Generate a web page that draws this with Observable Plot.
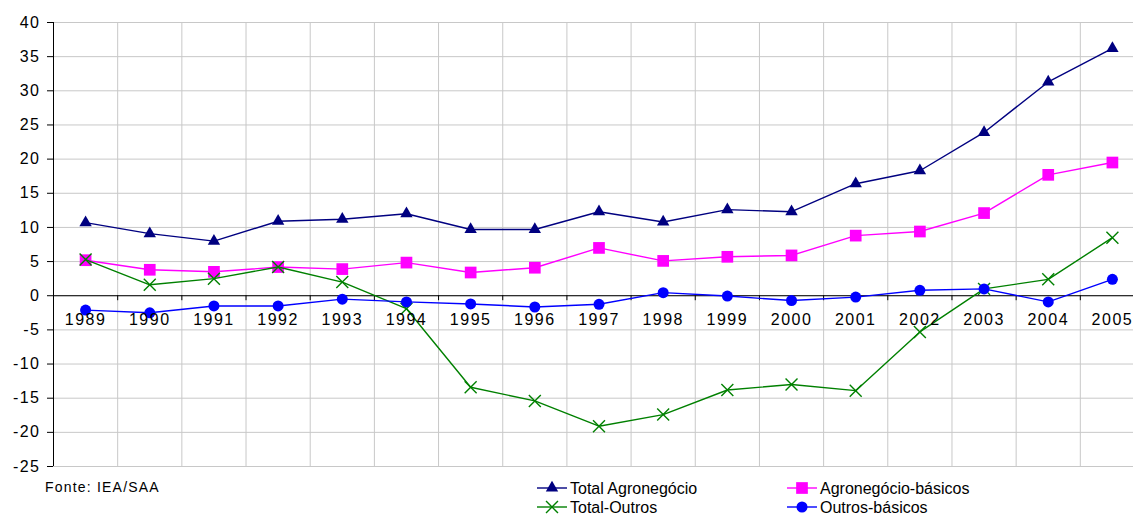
<!DOCTYPE html>
<html><head><meta charset="utf-8">
<script src="https://cdn.jsdelivr.net/npm/d3@7"></script>
<script src="https://cdn.jsdelivr.net/npm/@observablehq/plot@0.6"></script>
<style>
body{margin:0;background:#fff;font-family:"Liberation Sans",Arial,sans-serif;}
#legend{position:relative;width:1133px;height:46px;}
</style>
</head><body>
<div id="chart"></div>
<div id="legend"></div>
<script>
const years = [1989,1990,1991,1992,1993,1994,1995,1996,1997,1998,1999,2000,2001,2002,2003,2004,2005];
const totalAgronegocio = [10.7,9.1,8.0,10.9,11.2,12.0,9.7,9.7,12.3,10.8,12.6,12.3,16.4,18.3,23.9,31.3,36.2];
const agronegocioBasicos = [5.2,3.8,3.5,4.2,3.9,4.85,3.4,4.1,7.0,5.1,5.7,5.9,8.8,9.4,12.1,17.7,19.5];
const totalOutros = [5.3,1.6,2.5,4.2,2.0,-1.9,-13.4,-15.4,-19.1,-17.4,-13.8,-13.0,-13.9,-5.3,1.0,2.4,8.5];
const outrosBasicos = [-2.1,-2.5,-1.5,-1.5,-0.5,-0.9,-1.2,-1.65,-1.25,0.45,-0.05,-0.7,-0.2,0.8,1.0,-0.9,2.4];
const yTicks = [-25,-20,-15,-10,-5,0,5,10,15,20,25,30,35,40];
const seriesNames = ["Total Agronegócio","Agronegócio-básicos","Total-Outros","Outros-básicos"];
const source = "Fonte: IEA/SAA";

const seriesValues = [totalAgronegocio, agronegocioBasicos, totalOutros, outrosBasicos];
const styles = [
  {color:"#000080", symbol:"triangle", r:4.6, filled:true},
  {color:"#ff00ff", symbol:"square", r:6.6, filled:true},
  {color:"#008000", symbol:"times", r:5.5, filled:false},
  {color:"#0000ff", symbol:"circle", r:5.5, filled:true}
];
const data = seriesNames.flatMap((name, s) =>
  years.map((year, i) => ({series:name, s, year, value:seriesValues[s][i]})));
const boundaries = years.slice(0, -1).map(y => y + 0.5);
const leftEdge = years[0] - 0.5;

const marks = [
  Plot.ruleY(yTicks, {stroke:"#c8c8c8", strokeWidth:1}),
  Plot.ruleX(boundaries, {stroke:"#c8c8c8", strokeWidth:1}),
  Plot.ruleY([0], {stroke:"#000", strokeWidth:1}),
  Plot.ruleX(boundaries, {y1:0, y2:0, insetBottom:-5, stroke:"#000"}),
  Plot.ruleX([leftEdge], {stroke:"#000", strokeWidth:1}),
];
styles.forEach((st, s) => {
  const d = data.filter(r => r.s === s);
  marks.push(Plot.line(d, {x:"year", y:"value", stroke:st.color, strokeWidth:1.4}));
  marks.push(Plot.dot(d, st.filled
    ? {x:"year", y:"value", symbol:st.symbol, r:st.r, fill:st.color, stroke:"none"}
    : {x:"year", y:"value", symbol:st.symbol, r:st.r, stroke:st.color, strokeWidth:1.4}));
});
marks.push(Plot.text(years, {x:d => d, y:() => 0, text:d => String(d), dy:24, fontSize:16, fill:"#000"}));

const chart = Plot.plot({
  width:1133, height:470,
  marginLeft:53, marginRight:-11, marginTop:22, marginBottom:4,
  style:{fontFamily:"'Liberation Sans', Arial, sans-serif", fontSize:"16px", letterSpacing:"1.5px", background:"#fff", overflow:"visible"},
  x:{domain:[leftEdge, years[years.length-1] + 0.5], axis:null},
  y:{domain:[yTicks[0], yTicks[yTicks.length-1]], ticks:yTicks, tickSize:6, tickPadding:7,
     tickFormat:d => String(d), label:null, axis:"left"},
  marks
});
document.getElementById("chart").appendChild(chart);

// legend
const svg = d3.select("#legend").append("svg").attr("width",1133).attr("height",46)
  .style("font-family","'Liberation Sans', Arial, sans-serif").style("display","block");
svg.append("text").attr("x",45).attr("y",22).attr("font-size",14).attr("letter-spacing","1.2px")
  .text(source);
const pos = [[537,18],[787,18],[537,37],[787,37]];
seriesNames.forEach((name, s) => {
  const [x, y] = pos[s], st = styles[s];
  svg.append("line").attr("x1",x).attr("x2",x+30).attr("y1",y).attr("y2",y)
    .attr("stroke",st.color).attr("stroke-width",1.4);
  const sym = {triangle:d3.symbolTriangle, square:d3.symbolSquare, times:d3.symbolTimes, circle:d3.symbolCircle}[st.symbol];
  const p = svg.append("path").attr("transform",`translate(${x+15},${y})`)
    .attr("d", d3.symbol(sym, Math.PI*st.r*st.r)());
  if (st.filled) p.attr("fill",st.color); else p.attr("fill","none").attr("stroke",st.color).attr("stroke-width",1.4);
  svg.append("text").attr("x",x+33).attr("y",y+5.5).attr("font-size",16).attr("letter-spacing","0px").text(name);
});
</script>
</body></html>
